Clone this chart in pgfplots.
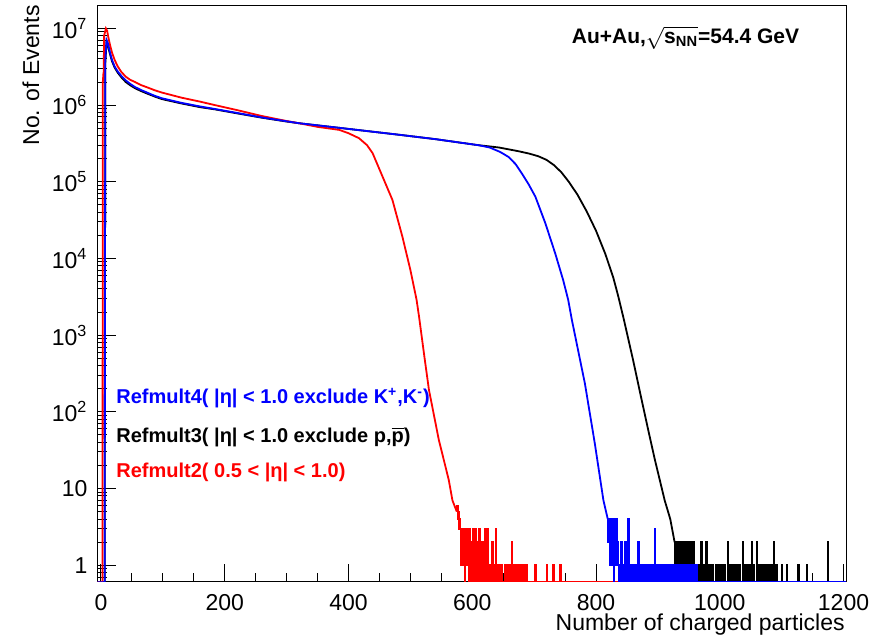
\documentclass[border=0pt]{standalone}
\usepackage{pgfplots}
\pgfplotsset{compat=1.18}
\usepackage{fontspec}
\setmainfont{Liberation Sans}
\begin{document}
\begin{tikzpicture}
\begin{axis}[
  scale only axis, width=374.25pt, height=288pt,
  at={(0,0)}, anchor=south west,
  xmin=-5.6, xmax=1204, ymode=log, ymin=0.604, ymax=1.96e7,
  axis line style={line width=0.5pt},
  tick align=inside, xtick pos=bottom, ytick pos=left,
  major tick length=9pt, minor tick length=4.5pt,
  every tick/.style={black, line width=0.5pt},
  xtick={0,200,400,600,800,1000,1200}, minor x tick num=3,
  ytick={1,10,100,1000,10000,100000,1000000,10000000},
  yticklabels={1,10,10\textsuperscript{2},10\textsuperscript{3},10\textsuperscript{4},10\textsuperscript{5},10\textsuperscript{6},10\textsuperscript{7}},
  minor ytick={0.7,0.8,0.9,2,3,4,5,6,7,8,9,20,30,40,50,60,70,80,90,200,300,400,500,600,700,800,900,2000,3000,4000,5000,6000,7000,8000,9000,20000,30000,40000,50000,60000,70000,80000,90000,200000,300000,400000,500000,600000,700000,800000,900000,2000000,3000000,4000000,5000000,6000000,7000000,8000000,9000000},
  tick label style={font=\fontsize{11.5}{13}\selectfont},
  xticklabel style={/pgf/number format/assume math mode=true, /pgf/number format/1000 sep={}, yshift=-2.5pt},
  yticklabel style={xshift=-1.5pt},
]
% black: Refmult3
\addplot[black, line width=0.9pt] coordinates {(-6,0.6)(6,0.6)(7,3.5e6)(9,6.5e6)(11,6.1e6)(13,5.2e6)(15,4.5e6)(18,3.7e6)(22,3.1e6)(27,2.65e6)(33,2.3e6)(40,2.0e6)(47,1.82e6)(55,1.66e6)(65,1.52e6)(75,1.41e6)(86,1.3e6)(98,1.2e6)(130,1.05e6)(160,9.4e5)(184,8.8e5)(220,7.8e5)(260,6.85e5)(300,6.1e5)(320,5.8e5)(385,5.05e5)(482,4.1e5)(540,3.6e5)(610,3.0e5)(643,2.8e5)(675,2.5e5)(692,2.33e5)(707,2.15e5)(720,1.93e5)(732,1.65e5)(744,1.33e5)(756,1.0e5)(770,6.8e4)(785,4.1e4)(800,2.3e4)(815,1.15e4)(828,5.6e3)(836,3.2e3)(845,1.6e3)(860,470)(873.6,145)(885,55)(895,24)(911,7)(920,4)(927,2)};
\addplot[black, line width=0.9pt, const plot] coordinates {(927,2)(928,1)(929,2)(930,2)(931,1)(932,2)(933,2)(934,2)(935,1)(936,2)(937,2)(938,1)(939,2)(940,2)(941,2)(942,1)(943,2)(944,2)(945,1)(946,2)(947,2)(948,1)(949,2)(950,1)(951,2)(952,1)(953,2)(954,1)(955,0.6)(956,1)(957,2)(958,1)(959,0.6)(960,1)(961,1)(962,0.6)(963,1)(964,0.6)(966,1)(967,0.6)(969,1)(970,2)(971,0.6)(973,1)(974,0.6)(976,1)(977,0.6)(978,2)(979,0.6)(981,1)(982,0.6)(985,1)(986,0.6)(988,1)(989,1)(990,0.6)(993,1)(994,0.6)(997,1)(998,0.6)(1001,1)(1002,0.6)(1004,1)(1005,0.6)(1008,1)(1009,0.6)(1013,2)(1014,0.6)(1016,1)(1017,0.6)(1020,1)(1021,0.6)(1024,1)(1025,0.6)(1028,1)(1029,0.6)(1032,1)(1033,0.6)(1037,2)(1038,0.6)(1041,1)(1042,0.6)(1045,1)(1046,0.6)(1048,1)(1049,0.6)(1052,2)(1053,0.6)(1055,1)(1056,0.6)(1060,2)(1061,0.6)(1063,1)(1064,0.6)(1067,1)(1068,0.6)(1071,1)(1072,0.6)(1075,1)(1076,0.6)(1079,1)(1080,0.6)(1083,1)(1084,0.6)(1087,2)(1088,1)(1089,0.6)(1092,1)(1093,0.6)(1100,1)(1101,0.6)(1108,1)(1109,0.6)(1127,1)(1128,0.6)(1140,1)(1141,0.6)(1174,2)(1175,0.6)(1206,0.6)};
% red: Refmult2
\addplot[red, line width=0.9pt] coordinates {(-6,0.6)(2.5,0.6)(3,2.0e6)(4,2.6e6)(4.5,2.6e6)(5,8e6)(8,1.0e7)(10,9.3e6)(12,7.6e6)(15,5.9e6)(18,4.8e6)(22,3.9e6)(27,3.2e6)(33,2.7e6)(40,2.35e6)(47,2.14e6)(55,2.0e6)(65,1.82e6)(75,1.7e6)(86,1.57e6)(98,1.46e6)(130,1.25e6)(160,1.11e6)(184,1.0e6)(220,8.6e5)(260,7.2e5)(300,6.2e5)(320,5.8e5)(350,5.2e5)(385,4.75e5)(400,4.3e5)(417,3.7e5)(430,3.0e5)(439,2.36e5)(455,1.17e5)(471,5.8e4)(487,1.94e4)(500,7.1e3)(510,2.9e3)(514,1.75e3)(523,500)(530,194)(546,43)(562,13)(568,7)(575,5)};
\addplot[red, line width=0.9pt, const plot] coordinates {(575,5)(576,6)(577,4)(578,5)(579,3)(580,4)(581,1)(582,3)(583,1)(584,3)(585,2)(586,1)(587,3)(588,0.6)(589,3)(590,1)(591,2)(592,1)(593,3)(594,0.6)(595,1)(596,3)(597,1)(598,0.6)(599,2)(600,1)(601,3)(602,1)(603,0.6)(604,1)(605,3)(606,0.6)(607,1)(608,2)(609,0.6)(610,1)(611,3)(612,1)(613,0.6)(614,1)(615,0.6)(616,2)(617,1)(618,0.6)(619,1)(620,3)(621,1)(622,0.6)(623,1)(624,3)(625,2)(626,0.6)(627,1)(628,0.6)(629,1)(630,1)(631,0.6)(632,2)(633,0.6)(635,1)(636,0.6)(638,3)(639,0.6)(641,1)(642,0.6)(645,1)(646,0.6)(648,1)(649,0.6)(652,1)(653,0.6)(656,1)(657,1)(658,0.6)(659,1)(661,1)(662,0.6)(663,1)(664,2)(665,1)(666,0.6)(668,1)(669,1)(670,0.6)(672,1)(673,0.6)(675,1)(676,0.6)(679,1)(680,0.6)(683,1)(684,0.6)(687,1)(688,0.6)(702,1)(703,0.6)(720,1)(721,0.6)(731,1)(732,0.6)(742,1)(743,0.6)(1206,0.6)};
% blue: Refmult4
\addplot[blue, line width=0.9pt] coordinates {(-6,0.6)(6,0.6)(7,4e6)(9,7.1e6)(11,6.5e6)(13,5.5e6)(15,4.7e6)(18,3.85e6)(22,3.2e6)(27,2.75e6)(33,2.4e6)(40,2.1e6)(47,1.9e6)(55,1.72e6)(65,1.57e6)(75,1.45e6)(86,1.33e6)(98,1.23e6)(130,1.07e6)(160,9.6e5)(184,8.9e5)(220,7.9e5)(260,6.9e5)(300,6.15e5)(320,5.8e5)(385,5.05e5)(482,4.1e5)(540,3.6e5)(610,3.0e5)(628,2.8e5)(645,2.45e5)(659,2.1e5)(670,1.7e5)(680,1.29e5)(691,9.3e4)(702,6.4e4)(718,2.9e4)(734,1.17e4)(747,5.2e3)(755,2.9e3)(761,1.58e3)(782,235)(798,39)(812,7)(819,4)};
\addplot[blue, line width=0.9pt, const plot] coordinates {(819,4)(820,2)(821,4)(822,1)(823,3)(824,4)(825,1)(826,2)(827,4)(828,1)(829,0.6)(830,4)(831,2)(832,1)(833,4)(834,1)(835,2)(836,1)(837,0.6)(838,1)(839,1)(840,0.6)(841,2)(842,1)(843,0.6)(844,1)(845,0.6)(846,1)(847,2)(848,0.6)(849,1)(850,1)(851,0.6)(852,4)(853,1)(854,0.6)(856,1)(857,0.6)(858,1)(859,1)(860,0.6)(862,1)(863,0.6)(865,1)(866,1)(867,0.6)(868,2)(869,0.6)(871,1)(872,0.6)(874,1)(875,1)(876,0.6)(878,1)(879,0.6)(882,1)(883,0.6)(885,1)(886,1)(887,0.6)(889,1)(890,0.6)(893,1)(894,0.6)(895,3)(896,0.6)(898,1)(899,0.6)(901,1)(902,0.6)(905,1)(906,0.6)(908,1)(909,1)(910,1)(911,0.6)(912,1)(913,1)(914,0.6)(915,1)(916,1)(917,1)(918,0.6)(919,1)(920,1)(921,0.6)(922,1)(923,1)(924,1)(925,0.6)(926,1)(927,1)(928,0.6)(929,1)(930,1)(931,1)(932,0.6)(933,1)(934,1)(935,0.6)(936,1)(937,1)(938,1)(939,0.6)(940,1)(941,1)(942,0.6)(943,1)(944,1)(945,1)(946,0.6)(947,1)(948,1)(949,0.6)(951,1)(952,1)(953,0.6)(955,1)(956,1)(957,0.6)(959,1)(960,0.6)(963,1)(964,0.6)(1206,0.6)};
\end{axis}
% texts (1px = 0.5pt; axis box SW at origin)
\node[font=\fontsize{10.5}{12}\selectfont\bfseries] at (294pt,272pt) {Au+Au,$\sqrt{\mbox{\bfseries s\textsubscript{NN}}}$=54.4 GeV};
\node[anchor=west, inner sep=0pt, text=blue, font=\fontsize{10}{11}\selectfont\bfseries] at (9.25pt,92pt) {Refmult4( |η| < 1.0 exclude K\textsuperscript{+},K\textsuperscript{-})};
\node[anchor=west, inner sep=0pt, text=black, font=\fontsize{10}{11}\selectfont\bfseries] at (9.25pt,72.5pt) {Refmult3( |η| < 1.0 exclude p,$\overline{\mbox{\bfseries p}}$)};
\node[anchor=west, inner sep=0pt, text=red, font=\fontsize{10}{11}\selectfont\bfseries] at (9.25pt,55pt) {Refmult2( 0.5 < |η| < 1.0)};
\node[rotate=90, anchor=east, inner sep=0pt, font=\fontsize{11.5}{13}\selectfont] at (-33.25pt,288.5pt) {No. of Events};
\node[anchor=east, inner sep=0pt, font=\fontsize{11.5}{13}\selectfont] at (373.75pt,-21.5pt) {Number of charged particles};
\node[anchor=east, inner sep=0pt, font=\fontsize{11.5}{13}\selectfont] at (-48pt,107.5pt) {)};
\pgfresetboundingbox
\path[use as bounding box] (-48.75pt,-29pt) rectangle (392.75pt,291pt);
\end{tikzpicture}
\end{document}
